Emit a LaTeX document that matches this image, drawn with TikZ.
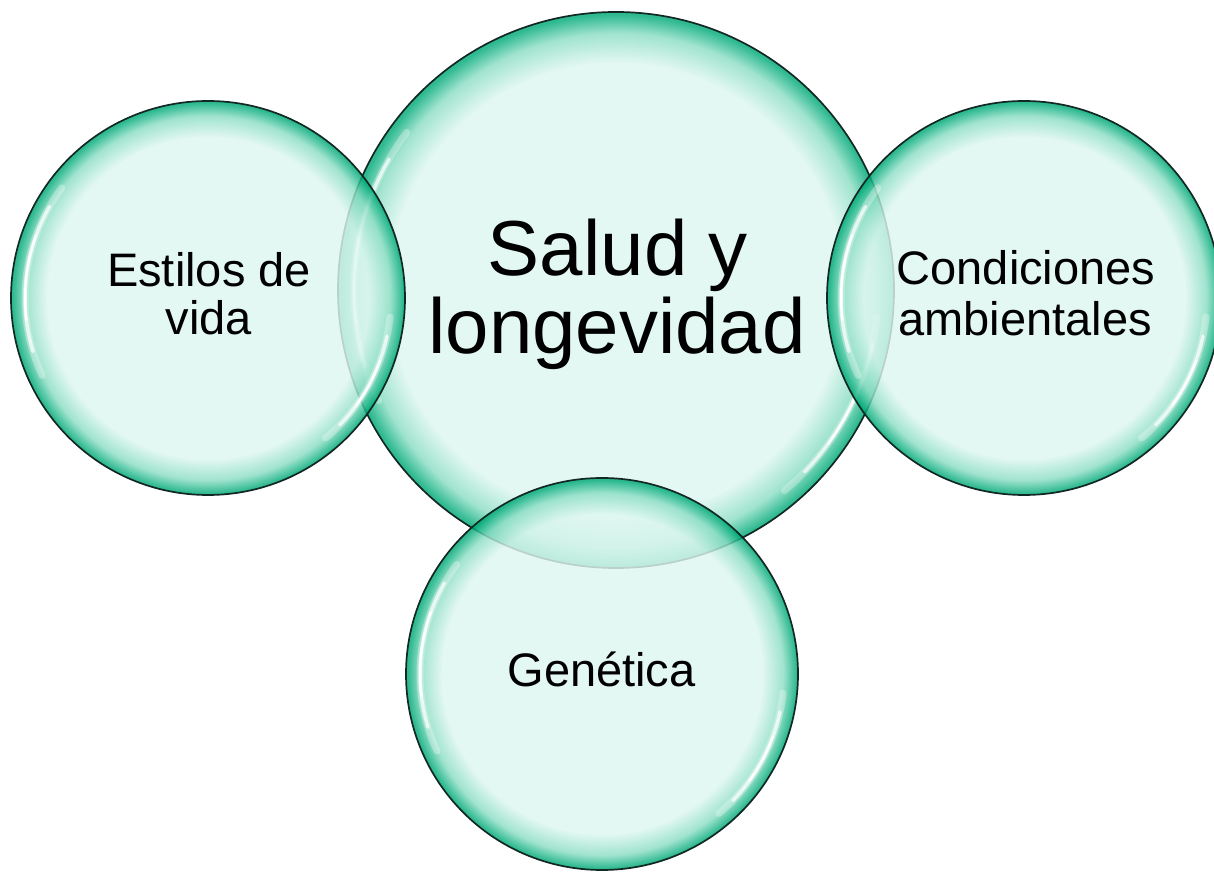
\documentclass[tikz,border=0pt]{standalone}
\usepackage{fontspec}
\setmainfont{Liberation Sans}
\definecolor{bubin}{RGB}{222,247,240}
\definecolor{bubmid}{RGB}{140,222,196}
\definecolor{bubout}{RGB}{0,170,120}
\definecolor{bubline}{RGB}{18,40,34}
\pgfdeclareradialshading{bubble}{\pgfpointorigin}{color(0bp)=(bubin); color(20.4bp)=(bubin); color(23.1bp)=(bubmid); color(24.8bp)=(bubout); color(50bp)=(bubout)}
\tikzset{
  bubblenode/.style={circle, inner sep=0pt, shade, shading=bubble, fill opacity=0.82,
    draw=bubline, draw opacity=1, line width=1.7bp},
  glosswide/.style={draw=white, line cap=round, line width=7bp, draw opacity=0.3},
  gloss/.style={draw=white, line cap=round, line width=3.5bp, draw opacity=0.7},
  glosscore/.style={draw=white, line cap=round, line width=2bp, draw opacity=0.95},
  bigtext/.style={font=\fontsize{78bp}{78bp}\selectfont, inner sep=0pt, anchor=base, text=black},
  smalltext/.style={font=\fontsize{47bp}{48bp}\selectfont, inner sep=0pt, anchor=base, text=black},
}
\newcommand{\glossarcs}[2]{%
  \draw[glosswide] (#1.center) ++(143:#2) arc[start angle=143, end angle=205, radius=#2];
  \draw[gloss] (#1.center) ++(150:#2) arc[start angle=150, end angle=197, radius=#2];
  \draw[glosscore] (#1.center) ++(160:#2) arc[start angle=160, end angle=187, radius=#2];
  \draw[glosswide] (#1.center) ++(-6:#2) arc[start angle=-6, end angle=-50, radius=#2];
  \draw[gloss] (#1.center) ++(-12:#2) arc[start angle=-12, end angle=-44, radius=#2];
  \draw[glosscore] (#1.center) ++(-20:#2) arc[start angle=-20, end angle=-36, radius=#2];
}
\begin{document}
\begin{tikzpicture}[x=1bp, y=1bp]
  \useasboundingbox (0,0) rectangle (1214,872);
  \fill[white] (0,0) rectangle (1214,872);

  \node[bubblenode, minimum size=556bp] (salud) at (616,582) {};
  \glossarcs{salud}{262}
  \node[bubblenode, minimum size=394bp] (estilos) at (208,574) {};
  \glossarcs{estilos}{183}
  \node[bubblenode, minimum size=394bp] (cond) at (1024,574) {};
  \glossarcs{cond}{183}
  \node[bubblenode, minimum size=392bp] (gen) at (602,198) {};
  \glossarcs{gen}{182}

  \node[bigtext] (t1) at (618,596) {Salud y};
  \node[bigtext] (t2) at (617,518) {longevidad};
  \node[smalltext] (e1) at (209,585.5) {Estilos de};
  \node[smalltext] (e2) at (209,537) {vida};
  \node[smalltext] (c1) at (1026,587) {Condiciones};
  \node[smalltext] (c2) at (1025,536) {ambientales};
  \node[smalltext] (g1) at (601.5,185) {Genética};
\end{tikzpicture}
\end{document}
